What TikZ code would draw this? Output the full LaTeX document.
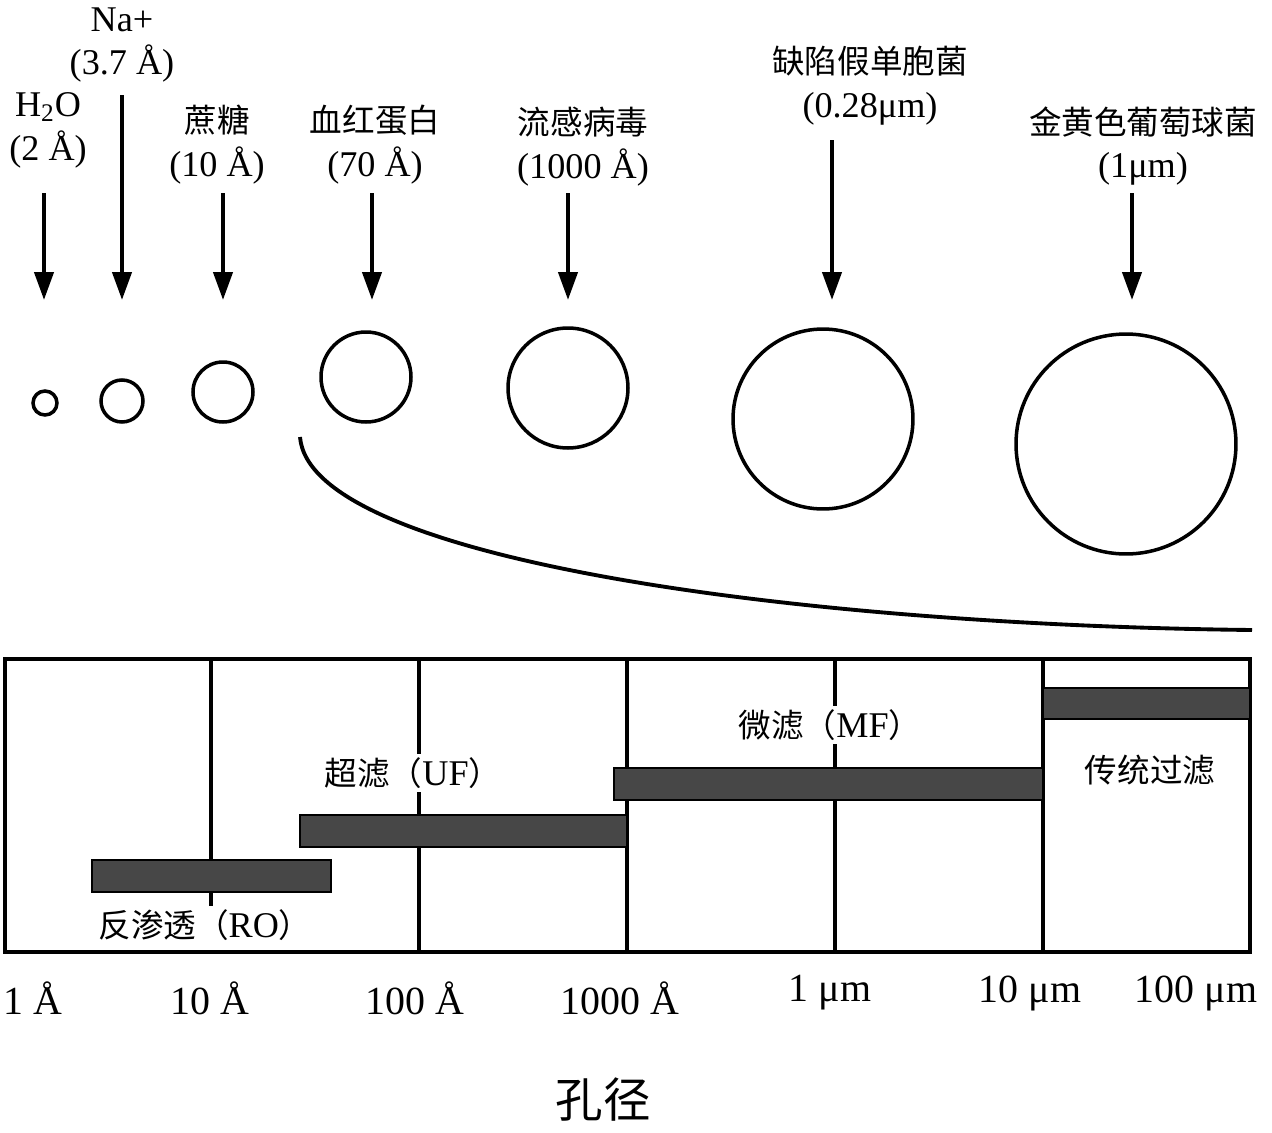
\documentclass[tikz,border=0pt]{standalone}
\usepackage{fontspec}
\setmainfont{Liberation Serif}
\newfontfamily\cjk[Scale=0.9]{Noto Sans CJK SC}
\usetikzlibrary{arrows.meta}
\newcommand{\zh}[1]{{\cjk #1}}
\tikzset{
  sizeLabel/.style={align=center, inner sep=1pt, font=\fontsize{20.6}{25}\selectfont},
  sizeArrow/.style={-{Triangle[length=0.56cm,width=0.38cm]}, line width=2.4pt},
  particle/.style={circle, draw, line width=2pt, inner sep=0pt},
  frameLine/.style={line width=2.6pt},
  gridLine/.style={line width=2pt},
  poreBar/.style={draw, line width=1.6pt, fill=black!72},
  rangeLabel/.style={fill=white, inner sep=2pt, font=\fontsize{20.6}{22}\selectfont},
  axisLabel/.style={inner sep=1pt, font=\fontsize{22.7}{26}\selectfont},
  titleLabel/.style={inner sep=1pt, font=\fontsize{30}{32}\selectfont}
}
\begin{document}
\begin{tikzpicture}[x=0.02cm, y=-0.02cm]
  \useasboundingbox (0,0) rectangle (1272,1133);

  % particles and their sizes
  \node[sizeLabel] (water) at (48,130) {H\textsubscript{2}O\\(2 Å)};
  \node[sizeLabel] (sodium) at (122,45) {Na+\\(3.7 Å)};
  \node[sizeLabel] (sucrose) at (217,145) {\zh{蔗糖}\\(10 Å)};
  \node[sizeLabel] (hemo) at (375,145) {\zh{血红蛋白}\\(70 Å)};
  \node[sizeLabel] (virus) at (583,147) {\zh{流感病毒}\\(1000 Å)};
  \node[sizeLabel] (pseudo) at (870,86) {\zh{缺陷假单胞菌}\\(0.28μm)};
  \node[sizeLabel] (staph) at (1143,146) {\zh{金黄色葡萄球菌}\\(1μm)};

  \node[particle, minimum size=0.48cm] (waterDot) at (45,403) {};
  \node[particle, minimum size=0.84cm] (sodiumDot) at (122,401) {};
  \node[particle, minimum size=1.2cm] (sucroseDot) at (223,392) {};
  \node[particle, minimum size=1.8cm] (hemoDot) at (366,377) {};
  \node[particle, minimum size=2.4cm] (virusDot) at (568,388) {};
  \node[particle, minimum size=3.6cm] (pseudoDot) at (823,419) {};
  \node[particle, minimum size=4.4cm] (staphDot) at (1126,444) {};

  \coordinate (waterTop) at (44,193);      \coordinate (waterTip) at (44,300);
  \coordinate (sodiumTop) at (122,95);     \coordinate (sodiumTip) at (122,300);
  \coordinate (sucroseTop) at (223,193);   \coordinate (sucroseTip) at (223,300);
  \coordinate (hemoTop) at (372,193);      \coordinate (hemoTip) at (372,300);
  \coordinate (virusTop) at (568,193);     \coordinate (virusTip) at (568,300);
  \coordinate (pseudoTop) at (832,140);    \coordinate (pseudoTip) at (832,300);
  \coordinate (staphTop) at (1132,193);    \coordinate (staphTip) at (1132,300);

  \draw[sizeArrow] (waterTop) -- (waterTip);
  \draw[sizeArrow] (sodiumTop) -- (sodiumTip);
  \draw[sizeArrow] (sucroseTop) -- (sucroseTip);
  \draw[sizeArrow] (hemoTop) -- (hemoTip);
  \draw[sizeArrow] (virusTop) -- (virusTip);
  \draw[sizeArrow] (pseudoTop) -- (pseudoTip);
  \draw[sizeArrow] (staphTop) -- (staphTip);

  % sweep curve
  \draw[line width=2.2pt] (300,437) .. controls (310,560) and (800,625) .. (1252,630);

  % process ranges
  \draw[gridLine] (211,659) -- (211,907);
  \draw[gridLine] (419,659) -- (419,952);
  \draw[gridLine] (627,659) -- (627,952);
  \draw[gridLine] (835,659) -- (835,952);
  \draw[gridLine] (1043,659) -- (1043,952);
  \draw[frameLine] (5,659) rectangle (1250,952);

  \draw[poreBar] (92,860) rectangle (331,892);
  \draw[poreBar] (300,815) rectangle (627,847);
  \draw[poreBar] (614,768) rectangle (1043,800);
  \draw[poreBar] (1043,688) rectangle (1250,719);

  \node[rangeLabel] (roLabel) at (205,925) {\zh{反渗透（}RO\zh{）}};
  \node[rangeLabel] (ufLabel) at (413,773) {\zh{超滤（}UF\zh{）}};
  \node[rangeLabel] (mfLabel) at (830,725) {\zh{微滤（}MF\zh{）}};
  \node[rangeLabel] (cfLabel) at (1150,770) {\zh{传统过滤}};

  % axis
  \node[axisLabel] (ax1) at (33,998) {1 Å};
  \node[axisLabel] (ax2) at (210,998) {10 Å};
  \node[axisLabel] (ax3) at (415,998) {100 Å};
  \node[axisLabel] (ax4) at (620,998) {1000 Å};
  \node[axisLabel] (ax5) at (830,993) {1 μm};
  \node[axisLabel] (ax6) at (1030,993) {10 μm};
  \node[axisLabel] (ax7) at (1196,993) {100 μm};
  \node[titleLabel] (axTitle) at (603,1100) {\zh{孔径}};
\end{tikzpicture}
\end{document}
